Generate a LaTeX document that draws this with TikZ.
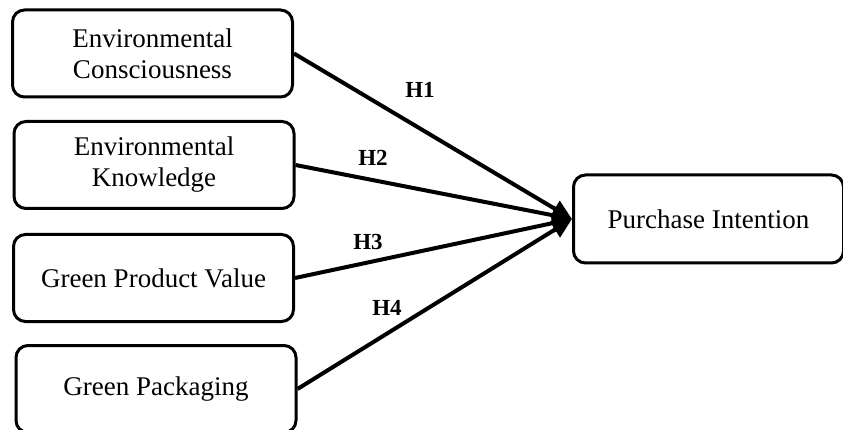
\documentclass[tikz,border=0pt]{standalone}
\usepackage{fontspec}
\setmainfont{Liberation Serif}
\usetikzlibrary{arrows.meta}
\tikzset{
  factor/.style={rectangle, draw=black, line width=3pt, rounded corners=12pt,
    minimum width=280pt, minimum height=87pt, align=center, inner sep=2pt,
    font=\fontsize{27}{31}\selectfont},
  arrow/.style={-{Triangle[length=20pt,width=18pt]}, line width=4pt, color=black},
  hyp/.style={font=\fontsize{23}{27}\selectfont\bfseries, inner sep=0pt}
}
\begin{document}
\begin{tikzpicture}[x=1pt, y=-1pt]
    \useasboundingbox (0,0) rectangle (843,430);

    % Independent variables
    \node[factor] (ec)  at (152.5, 53.5) {Environmental\\Consciousness};
    \node[factor] (ek)  at (154, 165)    {Environmental\\Knowledge};
    \node[factor] (gpv) at (153.5, 278)  {Green Product Value};
    \node[factor] (gp)  at (156, 389)    {Green Packaging};

    % Dependent variable
    \node[factor, minimum width=270pt, minimum height=88pt] (pi) at (708.5, 219) {Purchase Intention};

    % Hypotheses
    \draw[arrow] (ec.east)  -- (pi.west);
    \draw[arrow] (ek.east)  -- (pi.west);
    \draw[arrow] (gpv.east) -- (pi.west);
    \draw[arrow] (gp.east)  -- (pi.west);

    \node[hyp] (h1) at (420, 90)  {H1};
    \node[hyp] (h2) at (373, 158) {H2};
    \node[hyp] (h3) at (368, 242) {H3};
    \node[hyp] (h4) at (387, 308) {H4};
\end{tikzpicture}
\end{document}
